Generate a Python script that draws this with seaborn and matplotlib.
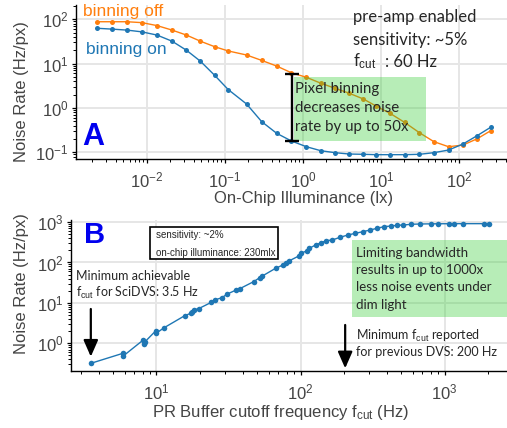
import matplotlib
matplotlib.use("Agg")
import matplotlib.pyplot as plt
import pandas as pd
import seaborn as sns
from matplotlib.patches import Rectangle
from matplotlib.ticker import LogLocator, NullFormatter
from matplotlib import font_manager

# ---------------- data ----------------
illuminance = [0.00231, 0.00355, 0.00553, 0.00862, 0.01346, 0.0210, 0.0321, 0.0485,
               0.0741, 0.110, 0.190, 0.296, 0.461, 0.713, 1.11, 1.70, 2.59, 3.93,
               5.96, 8.68, 13.1, 20.2, 31.3, 47.9, 73.9, 113, 171, 256]
rate_binning_off = [88, 88, 88, 84, 72, 57, 44, 32, 24, 19.3, 15.6, 11.8, 8.8, 6.2,
                    4.9, 3.6, 2.77, 2.14, 1.59, 1.1, 0.755, 0.47, 0.275, 0.173,
                    0.133, 0.145, 0.2, 0.305]
rate_binning_on = [62.6, 60, 57, 52, 44, 32, 20, 11.3, 5.4, 2.6, 1.22, 0.49, 0.267,
                   0.179, 0.133, 0.108, 0.0975, 0.091, 0.0897, 0.088, 0.088, 0.088,
                   0.0897, 0.0975, 0.112, 0.153, 0.235, 0.365]
series_names = ["binning off", "binning on"]

fcut = [3.51, 5.85, 5.9, 8.1, 8.15, 8.3, 9.9, 9.95, 11.3, 15.7, 17.3, 17.5, 18.1,
        19.6, 24.0, 25.4, 28.5, 31.0, 35.8, 37.8, 47.2, 52, 54.3, 67.1, 75.4, 78.7,
        83, 97.3, 101, 111, 115, 127, 139, 151, 166, 188, 213, 240, 270, 304, 340,
        378, 425, 468, 517, 585, 675, 805, 895, 1079, 1167, 1334, 1884, 2018]
rate_fcut = [0.32, 0.565, 0.49, 1.21, 0.96, 1.08, 2.05, 1.77, 2.43, 4.82, 5.53, 5.85,
             6.67, 7.2, 10.3, 11.8, 13.5, 16.6, 20.9, 22.4, 33.5, 42, 46.3, 71.8,
             86.7, 98.9, 109, 145, 169, 196, 224, 271, 309, 347, 360, 421, 479, 528,
             578, 637, 703, 769, 800, 833, 848, 883, 898, 905, 910, 912, 915, 915,
             915, 915]

# ---------------- style ----------------
W, H = 507, 428
sns.set_theme(style="whitegrid")
plt.rcParams["font.family"] = ["Liberation Sans", "DejaVu Sans"]
plt.rcParams["mathtext.fontset"] = "custom"
plt.rcParams["mathtext.rm"] = "Liberation Sans"
plt.rcParams["mathtext.it"] = "Liberation Sans:italic"
plt.rcParams["mathtext.bf"] = "Liberation Sans:bold"

BLUE = "#1f77b4"
ORANGE = "#ff7f0e"
GREY = "#444444"
ANN = ["Lato", "DejaVu Sans"]

installed = {f.name for f in font_manager.fontManager.ttflist}
if "Liberation Sans Narrow" in installed:
    NARROW, NARROW_SIZE = ["Liberation Sans Narrow"], 8.5
else:
    NARROW, NARROW_SIZE = ["Liberation Sans"], 7.0

fig = plt.figure(figsize=(W / 100, H / 100), dpi=100)


def px_axes(left, top, right, bottom):
    return fig.add_axes([left / W, 1 - bottom / H, (right - left) / W, (bottom - top) / H])


def ftext(x, y, s, **kw):
    return fig.text(x / W, 1 - y / H, s, **kw)


def style_axes(ax):
    ax.set_xscale("log")
    ax.set_yscale("log")
    ax.grid(True, which="major", color="#e6e6e6", lw=1.4)
    ax.grid(False, which="minor")
    for s in ["top", "right"]:
        ax.spines[s].set_visible(False)
    for s in ["left", "bottom"]:
        ax.spines[s].set_visible(True)
        ax.spines[s].set_color("black")
        ax.spines[s].set_linewidth(1.0)
    ax.tick_params(which="both", bottom=True, left=True, direction="out", color="black",
                   labelcolor=GREY, labelsize=12)
    ax.tick_params(which="major", length=3.2, width=0.9)
    ax.tick_params(which="minor", length=2.0, width=0.7)
    ax.tick_params(axis="x", which="major", pad=5)
    ax.tick_params(axis="y", which="major", pad=2)
    for axis in (ax.xaxis, ax.yaxis):
        axis.set_major_locator(LogLocator(base=10, numticks=20))
        axis.set_minor_locator(LogLocator(base=10, subs=range(2, 10), numticks=200))
        axis.set_minor_formatter(NullFormatter())
    ax.set_xlabel("")
    ax.set_ylabel("")


# ---------------- panel A ----------------
axA = px_axes(76, 5, 507, 158.8)
dfA = pd.DataFrame({
    "illum": illuminance + illuminance,
    "rate": rate_binning_off + rate_binning_on,
    "mode": [series_names[0]] * len(illuminance) + [series_names[1]] * len(illuminance),
})
sns.lineplot(data=dfA, x="illum", y="rate", hue="mode", hue_order=series_names,
             palette={series_names[0]: ORANGE, series_names[1]: BLUE},
             marker="o", markersize=3.6, markeredgewidth=0, linewidth=1.0,
             estimator=None, sort=False, legend=False, ax=axA)
style_axes(axA)
axA.set_xlim(1.23e-3, 415)
axA.set_ylim(0.071, 210)

axA.add_patch(Rectangle((0.77, 0.182), 38.2 - 0.77, 4.91 - 0.182,
                        facecolor="#32cd32", alpha=0.35, lw=0, zorder=4))
axA.errorbar([0.735], [1.0], yerr=[[1.0 - 0.18], [5.9 - 1.0]], fmt="none",
             ecolor="black", elinewidth=1.7, capsize=5, capthick=1.7, zorder=6)

ftext(304, 203, "On-Chip Illuminance (lx)", ha="center", va="baseline",
      fontsize=12, color=GREY)
ftext(22, 92, "Noise Rate (Hz/px)", ha="center", va="center", rotation=90,
      fontsize=12, color=GREY)

ftext(83, 16, "binning off", color=ORANGE, fontsize=12.5, va="baseline")
ftext(86, 54, "binning on", color=BLUE, fontsize=12.5, va="baseline")
ftext(82, 145, "A", color="#0000ee", fontsize=22, fontweight="bold", va="baseline")

ftext(353, 21.7, "pre-amp enabled", family=ANN, fontsize=12, va="baseline")
ftext(353, 44.5, "sensitivity: ~5%", family=ANN, fontsize=12, va="baseline")
ftext(353, 66.7, r"f$_{\rm cut}$", family=ANN, fontsize=12, va="baseline")
ftext(385, 66.7, ": 60 Hz", family=ANN, fontsize=12, va="baseline")

ftext(295, 93.5, "Pixel binning", family=ANN, fontsize=10.8, va="baseline")
ftext(295, 112.5, "decreases noise", family=ANN, fontsize=10.8, va="baseline")
ftext(295, 131.5, "rate by up to 50x", family=ANN, fontsize=10.8, va="baseline")

# ---------------- panel B ----------------
axB = px_axes(71, 220, 507, 371)
dfB = pd.DataFrame({"fcut": fcut, "rate": rate_fcut})
sns.lineplot(data=dfB, x="fcut", y="rate", color=BLUE, marker="o", markersize=4,
             markeredgewidth=0, linewidth=1.0, estimator=None, sort=True, ax=axB)
style_axes(axB)
axB.set_xlim(2.55, 2710)
axB.set_ylim(0.206, 1127)

axB.add_patch(Rectangle((228, 4.4), 5000 - 228, 360 - 4.4,
                        facecolor="#32cd32", alpha=0.35, lw=0, zorder=4))
arrow = dict(arrowstyle="-|>,head_length=0.5,head_width=0.22", color="black", lw=1.6,
             mutation_scale=20, shrinkA=0, shrinkB=0)
axB.annotate("", xy=(3.5, 0.466), xytext=(3.5, 7.06), arrowprops=arrow, zorder=6)
axB.annotate("", xy=(204, 0.24), xytext=(204, 2.84), arrowprops=arrow, zorder=6)

ftext(281, 416.5, r"PR Buffer cutoff frequency f$_{\rm cut}$ (Hz)", ha="center",
      va="baseline", fontsize=12, color=GREY)
ftext(22, 284, "Noise Rate (Hz/px)", ha="center", va="center", rotation=90,
      fontsize=12, color=GREY)
ftext(84, 243, "B", color="#0000ee", fontsize=21, fontweight="bold", va="baseline")

# text box
fig.add_artist(Rectangle((150 / W, 1 - 258.5 / H), 128 / W, 32 / H,
                         transform=fig.transFigure, facecolor="white",
                         edgecolor="black", lw=1.2, zorder=5))
ftext(156, 238.5, "sensitivity: ~2%", family=NARROW, fontsize=NARROW_SIZE,
      va="baseline", zorder=6)
ftext(156, 256, "on-chip illuminance: 230mlx", family=NARROW, fontsize=NARROW_SIZE,
      va="baseline", zorder=6)

ftext(76.5, 280, "Minimum achievable", family=ANN, fontsize=9, va="baseline")
ftext(76.5, 296.7, r"f$_{\rm cut}$ for SciDVS: 3.5 Hz", family=ANN, fontsize=9,
      va="baseline")

for i, line in enumerate(["Limiting bandwidth", "results in up to 1000x",
                          "less noise events under", "dim light"]):
    ftext(356.5, 257 + 17.2 * i, line, family=ANN, fontsize=9.5, va="baseline")

ftext(356.5, 339.5, r"Minimum f$_{\rm cut}$ reported", family=ANN, fontsize=9,
      va="baseline")
ftext(356.5, 355.7, "for previous DVS: 200 Hz", family=ANN, fontsize=9, va="baseline")

fig.savefig("out.png", dpi=100)
